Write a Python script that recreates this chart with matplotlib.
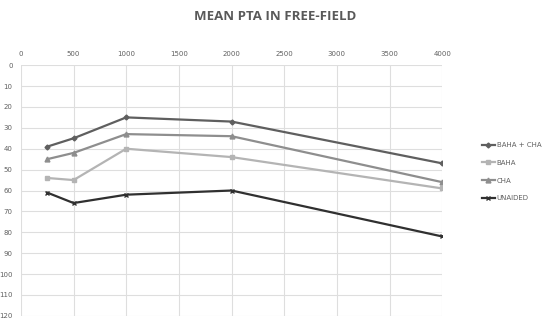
import matplotlib.pyplot as plt

# Mean PTA in free-field (dB HL) per frequency
freqs = [250, 500, 1000, 2000, 4000]
baha_cha = [39, 35, 25, 27, 47]
baha = [54, 55, 40, 44, 59]
cha = [45, 42, 33, 34, 56]
unaided = [61, 66, 62, 60, 82]

fig = plt.figure(figsize=(5.5, 3.21), dpi=100)
ax = fig.add_axes([0.038, 0.016, 0.766, 0.781])

ax.plot(freqs, baha_cha, color="#5f5f5f", marker="D", markersize=2.5, linewidth=1.6, label="BAHA + CHA")
ax.plot(freqs, baha, color="#b4b4b4", marker="s", markersize=3.5, linewidth=1.6, label="BAHA")
ax.plot(freqs, cha, color="#8e8e8e", marker="^", markersize=3.5, linewidth=1.6, label="CHA")
ax.plot(freqs, unaided, color="#303030", marker="x", markersize=3.5, linewidth=1.6, label="UNAIDED")

ax.set_xlim(0, 4000)
ax.set_ylim(120, 0)
ax.set_xticks(range(0, 4001, 500))
ax.set_yticks(range(0, 121, 10))
ax.xaxis.tick_top()
ax.tick_params(labelsize=5, colors="#606060", length=0, pad=6)
ax.grid(True, color="#dedede", linewidth=0.8)
ax.set_axisbelow(True)
for s in ax.spines.values():
    s.set_visible(False)

fig.suptitle("MEAN PTA IN FREE-FIELD", y=0.97, fontsize=9.5, fontweight="bold",
             color="#595959", family="Open Sans")
ax.legend(loc="center left", bbox_to_anchor=(1.08, 0.575), frameon=False, fontsize=5,
          labelcolor="#606060", handlelength=1.8, handletextpad=0.3, labelspacing=1.7)

fig.savefig("out.png", dpi=100)
